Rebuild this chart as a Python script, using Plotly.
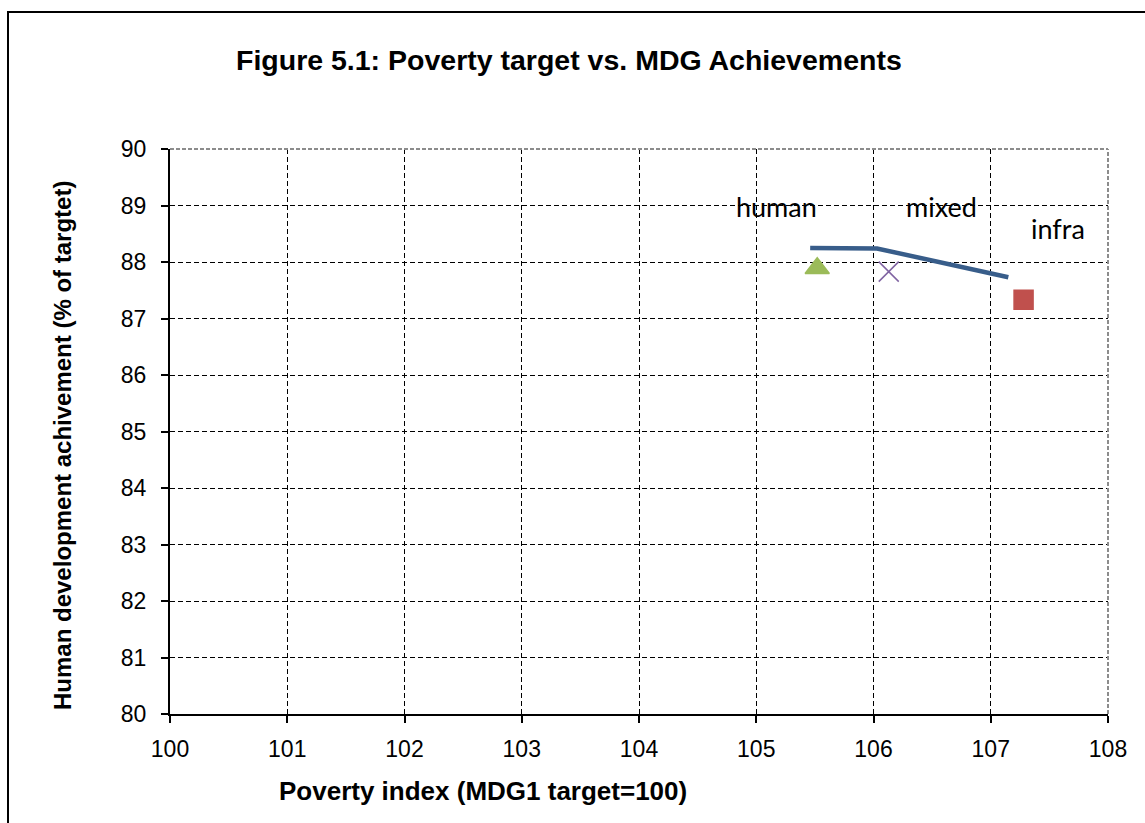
import plotly.graph_objects as go

# ---- data ----
line_x = [105.46, 106.03, 107.15]
line_y = [88.25, 88.24, 87.73]

point_names = ["human", "mixed", "infra"]
point_x = [105.52, 106.13, 107.28]
point_y = [87.89, 87.83, 87.33]

label_text = ["human", "mixed", "infra"]
label_x = [105.17, 106.58, 107.57]
label_y = [88.98, 88.98, 88.60]

x_ticks = [100, 101, 102, 103, 104, 105, 106, 107, 108]
y_ticks = [80, 81, 82, 83, 84, 85, 86, 87, 88, 89, 90]

title_text = "Figure 5.1: Poverty target vs. MDG Achievements"
x_title = "Poverty index (MDG1 target=100)"
y_title = "Human development achivement (% of targtet)"

# ---- figure ----
W, H = 1145, 823
L, R, T, B = 170, 37, 149, 109
pw, ph = W - L - R, H - T - B

def px_x(p):
    return (p - L) / pw

def px_y(p):
    return 1 - (p - T) / ph

fig = go.Figure()

fig.add_trace(go.Scatter(
    x=line_x, y=line_y, mode="lines", name="trend",
    line=dict(color="#385D8A", width=4.5), showlegend=False,
))

symbols = ["triangle-up", "x-thin", "square"]
colors = ["#9BBB59", "#8064A2", "#C0504D"]
sizes = [21, 20, 19]
for i in range(len(point_x)):
    fig.add_trace(go.Scatter(
        x=[point_x[i]], y=[point_y[i]], mode="markers", name=point_names[i],
        marker=dict(symbol=symbols[i], color=colors[i], size=sizes[i],
                    line=dict(color=colors[i], width=1.5)),
        showlegend=False,
    ))

annotations = []
for t, x, y in zip(label_text, label_x, label_y):
    annotations.append(dict(
        x=x, y=y, xref="x", yref="y", text=t, showarrow=False,
        font=dict(family="Lato", size=27, color="#000000"),
        xanchor="center", yanchor="middle",
    ))

annotations.append(dict(
    x=px_x(569), y=px_y(60), xref="paper", yref="paper", text="<b>" + title_text + "</b>",
    showarrow=False, font=dict(family="Liberation Sans", size=28.5, color="#000000"),
    xanchor="center", yanchor="middle",
))
annotations.append(dict(
    x=px_x(483), y=px_y(791), xref="paper", yref="paper", text="<b>" + x_title + "</b>",
    showarrow=False, font=dict(family="Liberation Sans", size=26, color="#000000"),
    xanchor="center", yanchor="middle",
))
annotations.append(dict(
    x=px_x(62), y=px_y(446), xref="paper", yref="paper", text="<b>" + y_title + "</b>",
    showarrow=False, font=dict(family="Liberation Sans", size=24, color="#000000"),
    textangle=-90, xanchor="center", yanchor="middle",
))

shapes = [
    # outer chart frame (right & bottom edges lie beyond the page)
    dict(type="rect", xref="paper", yref="paper",
         x0=px_x(8), x1=px_x(1160), y0=px_y(840), y1=px_y(12),
         line=dict(color="#000000", width=2), layer="below"),
    # plot-area border top and right (gray dashed)
    dict(type="line", xref="paper", yref="paper", x0=0, x1=1, y0=1, y1=1,
         line=dict(color="#8C8C8C", width=2, dash="4px,2px")),
    dict(type="line", xref="paper", yref="paper", x0=1, x1=1, y0=0, y1=1,
         line=dict(color="#8C8C8C", width=2, dash="4px,2px")),
]

axis_common = dict(
    showgrid=True, gridcolor="#000000", gridwidth=1.2, griddash="5px,3px",
    showline=True, linecolor="#000000", linewidth=2,
    ticks="outside", ticklen=7, tickwidth=1.5, tickcolor="#000000",
    tickfont=dict(family="Liberation Sans", size=23, color="#000000"),
    zeroline=False,
)

fig.update_layout(
    width=W, height=H,
    margin=dict(l=L, r=R, t=T, b=B),
    paper_bgcolor="#FFFFFF", plot_bgcolor="#FFFFFF",
    xaxis=dict(range=[100, 108], tickvals=x_ticks, ticktext=[str(v) for v in x_ticks],
               ticklabelstandoff=6, **axis_common),
    yaxis=dict(range=[80, 90], tickvals=y_ticks, ticktext=[str(v) for v in y_ticks],
               ticklabelstandoff=10, **axis_common),
    annotations=annotations,
    shapes=shapes,
    showlegend=False,
)

fig.write_html("out.html", config={"displayModeBar": False},
               post_script="document.body.style.margin='0';")
